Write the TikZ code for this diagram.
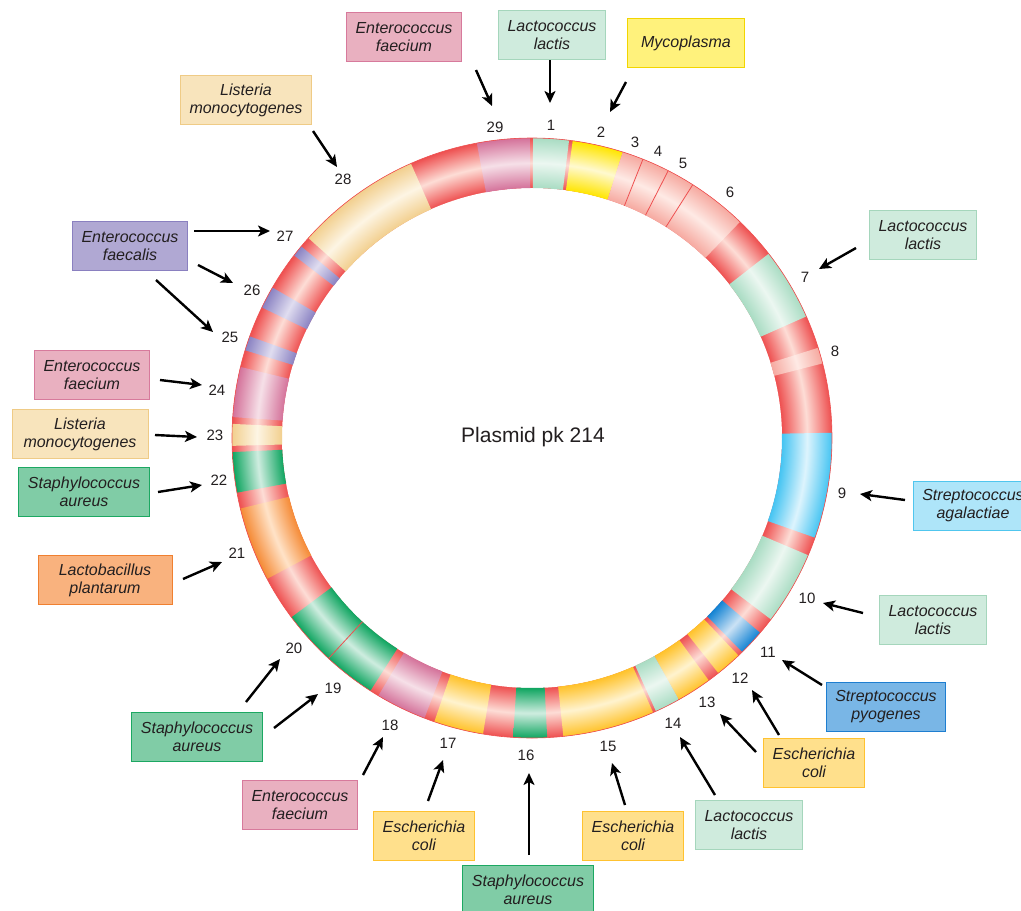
\documentclass[tikz,border=0pt]{standalone}
\usepackage{fontspec}
\setmainfont{Liberation Sans}
\usetikzlibrary{arrows.meta}
\usepackage{xcolor}
\definecolor{ink}{HTML}{231F20}
% ring colours: edge / middle
\definecolor{redEdge}{HTML}{EE5050}
\definecolor{redMid}{HTML}{FDDDD6}
\definecolor{paleEdge}{HTML}{F6A9A0}
\definecolor{paleMid}{HTML}{FEEAE5}
\definecolor{lactisEdge}{HTML}{A9DCC3}
\definecolor{lactisMid}{HTML}{ECF7F1}
\definecolor{mycoEdge}{HTML}{FFE500}
\definecolor{mycoMid}{HTML}{FFF9D0}
\definecolor{faeciumEdge}{HTML}{D4729A}
\definecolor{faeciumMid}{HTML}{F6E0E8}
\definecolor{listeriaEdge}{HTML}{F2CF8E}
\definecolor{listeriaMid}{HTML}{FDF5E4}
\definecolor{faecalisEdge}{HTML}{8A82C2}
\definecolor{faecalisMid}{HTML}{E0DDF0}
\definecolor{staphEdge}{HTML}{0FA560}
\definecolor{staphMid}{HTML}{CFEDE0}
\definecolor{plantEdge}{HTML}{F58A35}
\definecolor{plantMid}{HTML}{FFE3C8}
\definecolor{agalEdge}{HTML}{45C4F2}
\definecolor{agalMid}{HTML}{DDF4FD}
\definecolor{pyoEdge}{HTML}{1383D3}
\definecolor{pyoMid}{HTML}{CBE2F5}
\definecolor{coliEdge}{HTML}{FFC22A}
\definecolor{coliMid}{HTML}{FFF3CF}
% box colours: fill / line
\definecolor{lactisFill}{HTML}{CFEBDD}
\definecolor{lactisLine}{HTML}{A5D6BC}
\definecolor{mycoFill}{HTML}{FFF27C}
\definecolor{mycoLine}{HTML}{F2D500}
\definecolor{faeciumFill}{HTML}{E9B0C0}
\definecolor{faeciumLine}{HTML}{D77A9C}
\definecolor{listeriaFill}{HTML}{F8E4BC}
\definecolor{listeriaLine}{HTML}{EFCB86}
\definecolor{faecalisFill}{HTML}{B0A8D3}
\definecolor{faecalisLine}{HTML}{8A80C0}
\definecolor{staphFill}{HTML}{80CCA6}
\definecolor{staphLine}{HTML}{1CA862}
\definecolor{plantFill}{HTML}{F9B27E}
\definecolor{plantLine}{HTML}{F08030}
\definecolor{agalFill}{HTML}{AEE5F9}
\definecolor{agalLine}{HTML}{50C6EE}
\definecolor{pyoFill}{HTML}{79B6E6}
\definecolor{pyoLine}{HTML}{1E7ED0}
\definecolor{coliFill}{HTML}{FFE08C}
\definecolor{coliLine}{HTML}{FFC230}

% radial shading across the ring width (r = 250 .. 300)
\newcommand\ringshade[3]{\pgfdeclareradialshading{#1}{\pgfpointorigin}{color(0bp)=(#2);color(20.83bp)=(#2);color(22.92bp)=(#3);color(25bp)=(#2);color(50bp)=(#2)}}
\ringshade{shRed}{redEdge}{redMid}
\ringshade{shPale}{paleEdge}{paleMid}
\ringshade{shLactis}{lactisEdge}{lactisMid}
\ringshade{shMyco}{mycoEdge}{mycoMid}
\ringshade{shFaecium}{faeciumEdge}{faeciumMid}
\ringshade{shListeria}{listeriaEdge}{listeriaMid}
\ringshade{shFaecalis}{faecalisEdge}{faecalisMid}
\ringshade{shStaph}{staphEdge}{staphMid}
\ringshade{shPlant}{plantEdge}{plantMid}
\ringshade{shAgal}{agalEdge}{agalMid}
\ringshade{shPyo}{pyoEdge}{pyoMid}
\ringshade{shColi}{coliEdge}{coliMid}

% one ring segment: start angle, end angle, shading
\newcommand\ringseg[3]{%
  \begin{scope}
    \clip (#1:250) arc[start angle=#1, end angle=#2, radius=250] -- (#2:300) arc[start angle=#2, end angle=#1, radius=300] -- cycle;
    \shade[shading=#3] (0,0) circle (300);
  \end{scope}}

\begin{document}
\begin{tikzpicture}[x=1pt, y=1pt,
    box/.style={draw, line width=1pt, minimum height=49pt, inner xsep=9pt, align=center, text=ink, font=\itshape\fontsize{16}{18}\selectfont},
    num/.style={text=ink, font=\fontsize{15}{18}\selectfont},
    arr/.style={line width=2.4pt, -{Stealth[length=12pt, width=11pt, inset=3pt]}}
  ]
  \useasboundingbox (0,0) rectangle (1021,-911);

  % the plasmid ring
  \begin{scope}[shift={(532,-438)}]
    \shade[shading=shRed] (0,0) circle (300);
    \fill[white] (0,0) circle (250);
    \ringseg{177.3}{181.5}{shListeria}
    \ringseg{166.3}{176}{shFaecium}
    \ringseg{160.2}{163}{shFaecalis}
    \ringseg{149.9}{154.2}{shFaecalis}
    \ringseg{140.3}{142.5}{shFaecalis}
    \ringseg{113.8}{138.2}{shListeria}
    \ringseg{90.4}{100.6}{shFaecium}
    \ringseg{82.9}{89.8}{shLactis}
    \ringseg{72.4}{82.2}{shMyco}
    \ringseg{46.1}{72.4}{shPale}
    \ringseg{23.9}{37.9}{shLactis}
    \ringseg{14.4}{17.5}{shPale}
    \ringseg{-19.4}{1}{shAgal}
    \ringseg{-37.2}{-23}{shLactis}
    \ringseg{-45.5}{-40.5}{shPyo}
    \ringseg{-51.6}{-46.5}{shColi}
    \ringseg{-60.7}{-53.9}{shColi}
    \ringseg{-65.6}{-60.7}{shLactis}
    \ringseg{-84}{-66.2}{shColi}
    \ringseg{-93.6}{-87.1}{shStaph}
    \ringseg{-109}{-99.4}{shColi}
    \ringseg{-120.8}{-111}{shFaecium}
    \ringseg{-143.3}{-122.6}{shStaph}
    \ringseg{-166.4}{-152}{shPlant}
    \ringseg{-177.3}{-169.5}{shStaph}
    \foreach \a in {57.6, 63, 68.3, -132.7}
      \draw[redEdge, line width=0.8pt] (\a:250) -- (\a:300);
    \draw[redEdge, line width=0.6pt] (0,0) circle (300);
  \end{scope}

  \node[text=ink, font=\fontsize{21}{24}\selectfont] (title) at (533,-437) {Plasmid pk 214};

  % position numbers
  \foreach \n/\x/\y in {1/551/125, 2/601/132, 3/635/142, 4/658/151, 5/683/163, 6/730/192,
      7/805/277, 8/835/351, 9/842/493, 10/807/598, 11/768/652, 12/740/678, 13/707/702,
      14/673/723, 15/608/746, 16/526/755, 17/448/743, 18/390/725, 19/333/688, 20/294/648,
      21/237/553, 22/219/480, 23/215/435, 24/217/390, 25/230/337, 26/252/290, 27/285/236,
      28/343/179, 29/495/127}
    \node[num] (n\n) at (\x,-\y) {\n};

  % species boxes
  \node[box, fill=faeciumFill, draw=faeciumLine] (faeciumT) at (404,-37) {Enterococcus\\faecium};
  \node[box, fill=lactisFill, draw=lactisLine] (lactisT) at (552,-35) {Lactococcus\\lactis};
  \node[box, fill=mycoFill, draw=mycoLine, minimum width=117pt] (myco) at (686,-43) {Mycoplasma};
  \node[box, fill=listeriaFill, draw=listeriaLine] (listeriaT) at (246,-100) {Listeria\\monocytogenes};
  \node[box, fill=faecalisFill, draw=faecalisLine] (faecalis) at (130,-246) {Enterococcus\\faecalis};
  \node[box, fill=faeciumFill, draw=faeciumLine] (faeciumL) at (92,-375) {Enterococcus\\faecium};
  \node[box, fill=listeriaFill, draw=listeriaLine, minimum width=136pt] (listeriaL) at (80,-434) {Listeria\\monocytogenes};
  \node[box, fill=staphFill, draw=staphLine] (staphL) at (84,-492) {Staphylococcus\\aureus};
  \node[box, fill=plantFill, draw=plantLine, minimum width=134pt] (plantarum) at (105,-580) {Lactobacillus\\plantarum};
  \node[box, fill=staphFill, draw=staphLine] (staphBL) at (197,-737) {Staphylococcus\\aureus};
  \node[box, fill=faeciumFill, draw=faeciumLine] (faeciumB) at (300,-805) {Enterococcus\\faecium};
  \node[box, fill=coliFill, draw=coliLine] (coliA) at (424,-836) {Escherichia\\coli};
  \node[box, fill=staphFill, draw=staphLine] (staphB) at (528,-890) {Staphylococcus\\aureus};
  \node[box, fill=coliFill, draw=coliLine] (coliB) at (633,-836) {Escherichia\\coli};
  \node[box, fill=lactisFill, draw=lactisLine] (lactisB) at (749,-825) {Lactococcus\\lactis};
  \node[box, fill=coliFill, draw=coliLine] (coliC) at (814,-763) {Escherichia\\coli};
  \node[box, fill=pyoFill, draw=pyoLine] (pyogenes) at (886,-707) {Streptococcus\\pyogenes};
  \node[box, fill=lactisFill, draw=lactisLine] (lactisR) at (933,-620) {Lactococcus\\lactis};
  \node[box, fill=agalFill, draw=agalLine] (agalactiae) at (973,-506) {Streptococcus\\agalactiae};
  \node[box, fill=lactisFill, draw=lactisLine] (lactisU) at (923,-235) {Lactococcus\\lactis};

  % pointers: tail -> tip
  \foreach \n/\ax/\ay/\bx/\by in {29/476/70/492/106, 1/550/60/550/103, 2/626/82/610/112,
      28/313/131/337/167, 27/194/231/270/231, 26/198/265/233/283, 25/156/280/213/332,
      24/160/380/202/385, 23/155/435/197/437, 22/158/492/202/485, 21/183/579/222/562,
      20/246/702/280/659, 19/274/728/318/694, 18/363/775/383/737, 17/428/801/443/760,
      16/529/855/529/773, 15/625/805/612/763, 14/715/795/680/737, 13/756/752/720/714,
      12/779/735/752/690, 11/822/685/782/660, 10/863/613/823/603, 9/905/500/860/494,
      7/856/248/819/269}
  {
    \coordinate (a\n) at (\ax,-\ay);
    \coordinate (b\n) at (\bx,-\by);
    \draw[arr] (a\n) -- (b\n);
  }
\end{tikzpicture}
\end{document}
